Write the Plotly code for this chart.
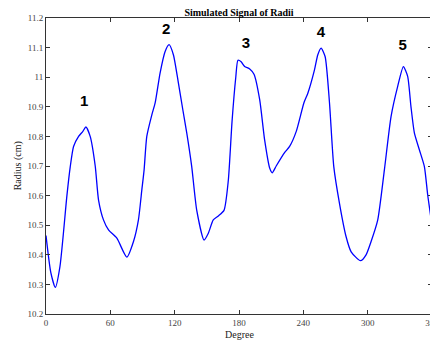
import plotly.graph_objects as go

degree = [0, 4.5, 8.7, 13, 19.5, 22.6, 25.7, 30.4, 34.4, 37.2, 41.2, 45.9, 49, 53.6, 58.3, 66.1,
          75.4, 81.6, 86.2, 89.4, 91.5, 94, 98.7, 101.8, 106.4, 111.1, 114.8, 118.8, 123.5,
          127.6, 131.3, 135.9, 140.6, 147.4, 151.4, 156, 160.7, 166, 170, 173.5, 177, 179,
          182, 185.3, 190, 194, 199.3, 203.9, 208.6, 211, 214.7, 222.5, 227.2, 233.4, 240.5,
          244.2, 250.4, 253.5, 256.6, 260.3, 264.4, 268.4, 273.7, 279.9, 284.6, 293.3,
          298.5, 303.2, 309.4, 315.6, 321.8, 328, 333.3, 337.3, 340.4, 343.6, 348.2,
          352.9, 356, 360]
radius = [10.465, 10.34, 10.29, 10.36, 10.60, 10.697, 10.766, 10.80, 10.817, 10.832, 10.80,
          10.70, 10.585, 10.518, 10.484, 10.456, 10.392, 10.445, 10.518, 10.62, 10.687,
          10.80, 10.873, 10.913, 11.014, 11.087, 11.110, 11.076, 10.98, 10.89, 10.811,
          10.698, 10.55, 10.45, 10.473, 10.518, 10.531, 10.55, 10.65, 10.85, 11.0, 11.057,
          11.052, 11.036, 11.028, 11.01, 10.924, 10.788, 10.693, 10.677, 10.70, 10.745,
          10.766, 10.817, 10.913, 10.946, 11.025, 11.076, 11.098, 11.07, 10.913, 10.698,
          10.574, 10.461, 10.41, 10.38, 10.40, 10.445, 10.518, 10.687, 10.867, 10.969,
          11.036, 11.003, 10.90, 10.811, 10.755, 10.698, 10.602, 10.50]

peak_labels = ["1", "2", "3", "4", "5"]
label_deg = [35.6, 112, 186.5, 256.4, 332.7]
label_rad = [10.916, 11.157, 11.113, 11.15, 11.103]

x_ticks = [0, 60, 120, 180, 240, 300, 360]
y_ticks = [10.2, 10.3, 10.4, 10.5, 10.6, 10.7, 10.8, 10.9, 11.0, 11.1, 11.2]
y_tick_text = ["10.2", "10.3", "10.4", "10.5", "10.6", "10.7", "10.8", "10.9", "11", "11.1", "11.2"]

fig = go.Figure()
fig.add_trace(go.Scatter(x=degree, y=radius, mode="lines",
                         line=dict(color="#0000ff", width=1.3, shape="spline", smoothing=0.6),
                         showlegend=False, hoverinfo="skip"))
fig.add_trace(go.Scatter(x=label_deg, y=label_rad, mode="text",
                         text=["<b>%s</b>" % t for t in peak_labels],
                         textfont=dict(family="Liberation Sans", size=15, color="black"),
                         textposition="middle center", showlegend=False, hoverinfo="skip"))

serif = "Liberation Serif"
axis_common = dict(showline=True, linecolor="#333333", linewidth=1, mirror="ticks",
                   ticks="inside", ticklen=4, tickcolor="#333333", showgrid=False,
                   zeroline=False, automargin=False, ticklabeloverflow="allow",
                   tickfont=dict(family=serif, size=9, color="#444444"))

# The page body adds an 8px offset, so the figure is sized 8px smaller than the window.
fig.update_layout(
    width=430, height=333,
    margin=dict(l=38, r=6, t=10, b=27),
    plot_bgcolor="white", paper_bgcolor="white",
    title=dict(text="<b>Simulated Signal of Radii</b>", x=0.5, xref="paper", xanchor="center",
               y=1 - 1 / 333, yref="container", yanchor="top", automargin=False,
               font=dict(family=serif, size=10, color="black")),
    xaxis=dict(range=[0, 360], tickvals=x_ticks, ticktext=[str(v) for v in x_ticks], **axis_common),
    yaxis=dict(range=[10.2, 11.2], tickvals=y_ticks, ticktext=y_tick_text, **axis_common),
    annotations=[
        dict(text="Degree", x=0.5, y=-0.068, xref="paper", yref="paper",
             xanchor="center", yanchor="middle", showarrow=False,
             font=dict(family=serif, size=10, color="#222")),
        dict(text="Radius (cm)", x=-0.0717, y=0.5, xref="paper", yref="paper",
             xanchor="center", yanchor="middle", showarrow=False, textangle=-90,
             font=dict(family=serif, size=10, color="#222")),
    ],
)

fig.write_html("out.html")
